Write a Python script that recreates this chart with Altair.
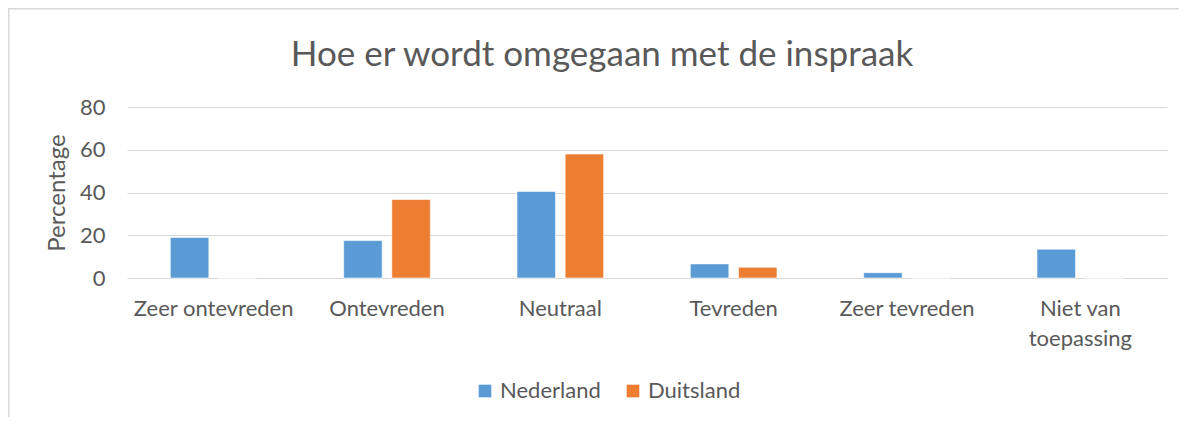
import altair as alt
import pandas as pd

categories = ["Zeer ontevreden", "Ontevreden", "Neutraal", "Tevreden", "Zeer tevreden", "Niet van toepassing"]
nederland = [19.0, 17.5, 40.5, 6.6, 2.5, 13.5]
duitsland = [0.0, 36.7, 58.0, 5.0, 0.0, 0.0]
series = ["Nederland", "Duitsland"]
colors = ["#5B9BD5", "#ED7D31"]
y_ticks = [0, 20, 40, 60, 80]
title_text = "Hoe er wordt omgegaan met de inspraak"

rows = []
for c, nl, de in zip(categories, nederland, duitsland):
    rows.append({"cat": c, "land": series[0], "val": nl})
    rows.append({"cat": c, "land": series[1], "val": de})
df = pd.DataFrame(rows)

W, H = 1040, 171
PL, PT = 119, 99
FONT = "Lato"
GREY = "#595959"

bars = alt.Chart(df).mark_bar(stroke="white", strokeWidth=0.6).encode(
    x=alt.X("cat:N", sort=categories,
            scale=alt.Scale(paddingInner=0.5, paddingOuter=0.25),
            axis=alt.Axis(title=None, labelAngle=0, labelFontSize=22, labelColor=GREY,
                          labelPadding=20, ticks=False, domain=False, grid=False,
                          labelLineHeight=30, labelFont=FONT,
                          labelExpr="datum.value == 'Niet van toepassing' ? ['Niet van', 'toepassing'] : datum.value")),
    xOffset=alt.XOffset("land:N", sort=series, scale=alt.Scale(paddingInner=0.2, paddingOuter=0)),
    y=alt.Y("val:Q", scale=alt.Scale(domain=[0, 80], nice=False),
            axis=alt.Axis(title="Percentage", values=y_ticks, labelFontSize=22, labelColor=GREY,
                          labelPadding=22, ticks=False, domain=False, grid=True,
                          gridColor="#d9d9d9", gridWidth=1.2, titleFontSize=24,
                          titleFontWeight="normal", titleColor=GREY, titlePadding=10,
                          labelFont=FONT, titleFont=FONT)),
    color=alt.Color("land:N", sort=series,
                    scale=alt.Scale(domain=series, range=colors),
                    legend=alt.Legend(title=None, orient="none", direction="horizontal",
                                      legendX=347, legendY=273, symbolType="square",
                                      symbolSize=160, symbolStrokeWidth=0,
                                      labelFontSize=22, labelColor=GREY, labelFont=FONT,
                                      columnPadding=21, labelOffset=4)),
)

border = alt.Chart(pd.DataFrame({"a": [0]})).mark_rect(
    filled=False, stroke="#d9d9d9", strokeWidth=1.5
).encode(
    x=alt.value(-PL + 0.75), x2=alt.value(W + 40),
    y=alt.value(-PT + 0.75), y2=alt.value(H + 200),
)

title = alt.Chart(pd.DataFrame({"t": [title_text]})).mark_text(
    font=FONT, fontSize=35, color=GREY, align="center", baseline="alphabetic"
).encode(
    text="t:N", x=alt.value(602 - 127), y=alt.value(66 - 107),
)

chart = alt.layer(border, bars, title).properties(
    width=W, height=H,
    autosize=alt.AutoSizeParams(type="none"),
    padding={"left": PL, "top": PT, "right": 12, "bottom": 139},
).configure(font=FONT, view=alt.ViewConfig(stroke="transparent", strokeWidth=0))

chart.save("out.html", embed_options={"renderer": "svg", "actions": False})
